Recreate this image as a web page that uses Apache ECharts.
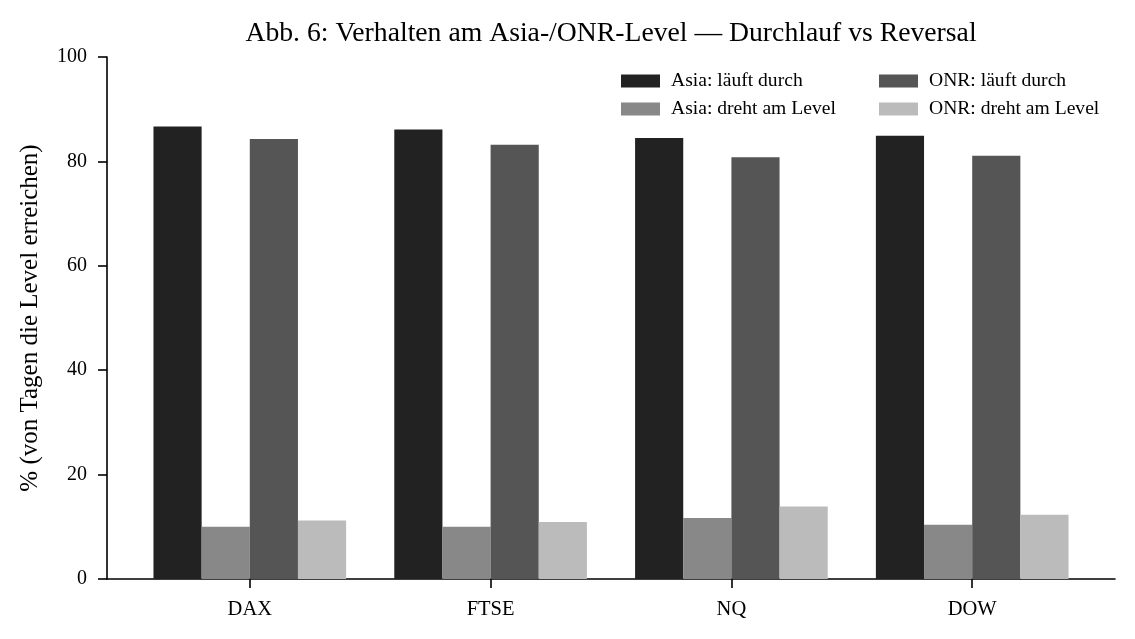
<!DOCTYPE html>
<html>
<head>
<meta charset="utf-8">
<script src="https://cdn.jsdelivr.net/npm/echarts@6/dist/echarts.min.js"></script>
<style>
  html, body { margin: 0; padding: 0; background: #fff; }
  #chart { width: 1135px; height: 639px; }
</style>
</head>
<body>
<div id="chart"></div>
<script>
var categories = ['DAX', 'FTSE', 'NQ', 'DOW'];
var asiaThrough = [86.7, 86.1, 84.5, 84.9];
var asiaReversal = [10.0, 10.0, 11.7, 10.4];
var onrThrough = [84.3, 83.2, 80.8, 81.1];
var onrReversal = [11.2, 10.9, 13.9, 12.3];
var yTicks = [0, 20, 40, 60, 80, 100];

var seriesNames = ['Asia: läuft durch', 'Asia: dreht am Level', 'ONR: läuft durch', 'ONR: dreht am Level'];
var seriesColors = ['#222222', '#888888', '#555555', '#bbbbbb'];
var seriesValues = [asiaThrough, asiaReversal, onrThrough, onrReversal];

var font = 'Liberation Serif';
var chart = echarts.init(document.getElementById('chart'));

function pairs(vals) {
    return vals.map(function (v, i) { return [i, v]; });
}

var legendText = {
    fontFamily: font, fontSize: 19.6, color: '#000',
    padding: [0, 0, 0, 6]
};

option = {
    animation: false,
    title: {
        text: 'Abb. 6: Verhalten am Asia-/ONR-Level — Durchlauf vs Reversal',
        left: 606,
        textAlign: 'center',
        top: 15,
        textStyle: { fontFamily: font, fontSize: 27.7, fontWeight: 'normal', color: '#000' }
    },
    legend: [{
        data: [seriesNames[0], seriesNames[1]],
        orient: 'vertical',
        left: 616, top: 66,
        itemWidth: 39, itemHeight: 13, itemGap: 8,
        icon: 'rect',
        textStyle: legendText
    }, {
        data: [seriesNames[2], seriesNames[3]],
        orient: 'vertical',
        left: 874, top: 66,
        itemWidth: 39, itemHeight: 13, itemGap: 8,
        icon: 'rect',
        textStyle: legendText
    }],
    grid: { left: 107, right: 20, top: 57, bottom: 60, containLabel: false },
    xAxis: {
        type: 'value',
        min: -0.593,
        max: 3.593,
        splitLine: { show: false },
        axisLine: { show: true, onZero: false, lineStyle: { color: '#000', width: 1.6 } },
        axisTick: { show: true, length: 9, lineStyle: { color: '#000', width: 1.6 }, customValues: [0, 1, 2, 3] },
        axisLabel: {
            customValues: [0, 1, 2, 3],
            formatter: function (v) { return categories[Math.round(v)]; },
            fontFamily: font, fontSize: 20.5, color: '#000', margin: 20
        }
    },
    yAxis: {
        type: 'value',
        min: yTicks[0],
        max: yTicks[yTicks.length - 1],
        interval: 20,
        name: '% (von Tagen die Level erreichen)',
        nameLocation: 'middle',
        nameGap: 64,
        nameTextStyle: { fontFamily: font, fontSize: 25, color: '#000' },
        splitLine: { show: false },
        axisLine: { show: true, onZero: false, lineStyle: { color: '#000', width: 1.6 } },
        axisTick: { show: true, length: 9, lineStyle: { color: '#000', width: 1.6 } },
        axisLabel: { fontFamily: font, fontSize: 20, color: '#000', margin: 20 }
    },
    series: seriesNames.map(function (name, k) {
        return {
            name: name,
            type: 'bar',
            data: pairs(seriesValues[k]),
            barGap: '0%',
            barCategoryGap: '20%',
            itemStyle: { color: seriesColors[k] }
        };
    })
};
chart.setOption(option);
</script>
</body>
</html>
